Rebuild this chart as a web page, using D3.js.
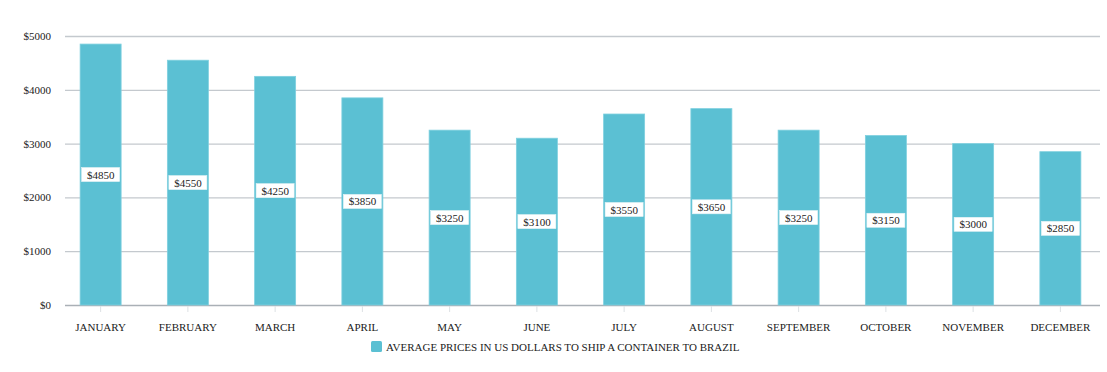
<!DOCTYPE html>
<html>
<head>
<meta charset="utf-8">
<script src="https://cdn.jsdelivr.net/npm/d3@7"></script>
<style>
body { margin: 0; background: #fff; }
svg text { font-family: "Liberation Serif", "DejaVu Serif", serif; fill: #222; }
</style>
</head>
<body>
<svg id="chart" width="1107" height="372"></svg>
<script>
'use strict';

var months = ['JANUARY', 'FEBRUARY', 'MARCH', 'APRIL', 'MAY', 'JUNE', 'JULY', 'AUGUST', 'SEPTEMBER', 'OCTOBER', 'NOVEMBER', 'DECEMBER'];
var prices = [4850, 4550, 4250, 3850, 3250, 3100, 3550, 3650, 3250, 3150, 3000, 2850];
var yTicks = [0, 1000, 2000, 3000, 4000, 5000];
var seriesName = 'AVERAGE PRICES IN US DOLLARS TO SHIP A CONTAINER TO BRAZIL';

var svg = d3.select('#chart');
var nLeft = 65, nRight = 1100, nTop = 36, nBottom = 305;
var strBarColor = '#5bc0d3';

var xScale = d3.scaleBand()
	.domain(months)
	.range([57, 1104])
	.paddingInner(0.53)
	.paddingOuter(0.265);

var yScale = d3.scaleLinear()
	.domain([0, 5000])
	.range([nBottom, nTop]);

// grid lines
svg.append('g')
	.selectAll('line')
	.data(yTicks)
	.enter()
	.append('line')
	.attr('x1', nLeft)
	.attr('x2', nRight)
	.attr('y1', function(d) { return yScale(d) + 0.5; })
	.attr('y2', function(d) { return yScale(d) + 0.5; })
	.attr('stroke', function(d) { return d == 0 ? '#aab0b6' : '#c4c9ce'; })
	.attr('stroke-width', 1.3);

// y labels
svg.append('g')
	.selectAll('text')
	.data(yTicks)
	.enter()
	.append('text')
	.attr('x', 51)
	.attr('y', function(d) { return yScale(d) + 4; })
	.attr('text-anchor', 'end')
	.attr('font-size', 11)
	.text(function(d) { return '$' + d; });

// bars
svg.append('g')
	.selectAll('rect')
	.data(prices)
	.enter()
	.append('rect')
	.attr('x', function(d, i) { return xScale(months[i]); })
	.attr('y', function(d) { return yScale(d); })
	.attr('width', xScale.bandwidth())
	.attr('height', function(d) { return nBottom - yScale(d); })
	.attr('fill', strBarColor)
	.attr('stroke', '#7fd0df')
	.attr('stroke-width', 0.8);

// x ticks and labels
var xAxis = svg.append('g');
xAxis.selectAll('line')
	.data(months)
	.enter()
	.append('line')
	.attr('x1', function(d) { return xScale(d) + xScale.bandwidth() / 2; })
	.attr('x2', function(d) { return xScale(d) + xScale.bandwidth() / 2; })
	.attr('y1', nBottom + 1)
	.attr('y2', nBottom + 7)
	.attr('stroke', '#dde1e4');
xAxis.selectAll('text')
	.data(months)
	.enter()
	.append('text')
	.attr('x', function(d) { return xScale(d) + xScale.bandwidth() / 2; })
	.attr('y', 331)
	.attr('text-anchor', 'middle')
	.attr('font-size', 11)
	.text(function(d) { return d; });

// value labels
var labels = svg.append('g')
	.selectAll('g')
	.data(prices)
	.enter()
	.append('g')
	.attr('transform', function(d, i) {
		var x = xScale(months[i]) + xScale.bandwidth() / 2;
		var y = (yScale(d) + nBottom) / 2;
		return 'translate(' + x + ',' + y + ')';
	});
labels.append('rect')
	.attr('x', -19)
	.attr('y', -7)
	.attr('width', 38)
	.attr('height', 14)
	.attr('fill', '#fff')
	.attr('stroke', '#e6f3f6')
	.attr('stroke-width', 0.6);
labels.append('text')
	.attr('y', 4)
	.attr('text-anchor', 'middle')
	.attr('font-size', 11)
	.text(function(d) { return '$' + d; });

// legend
var legend = svg.append('g').attr('transform', 'translate(371,341)');
legend.append('rect')
	.attr('width', 11)
	.attr('height', 11)
	.attr('rx', 1.5)
	.attr('fill', strBarColor);
legend.append('text')
	.attr('x', 15)
	.attr('y', 10)
	.attr('font-size', 11)
	.text(seriesName);
</script>
</body>
</html>
